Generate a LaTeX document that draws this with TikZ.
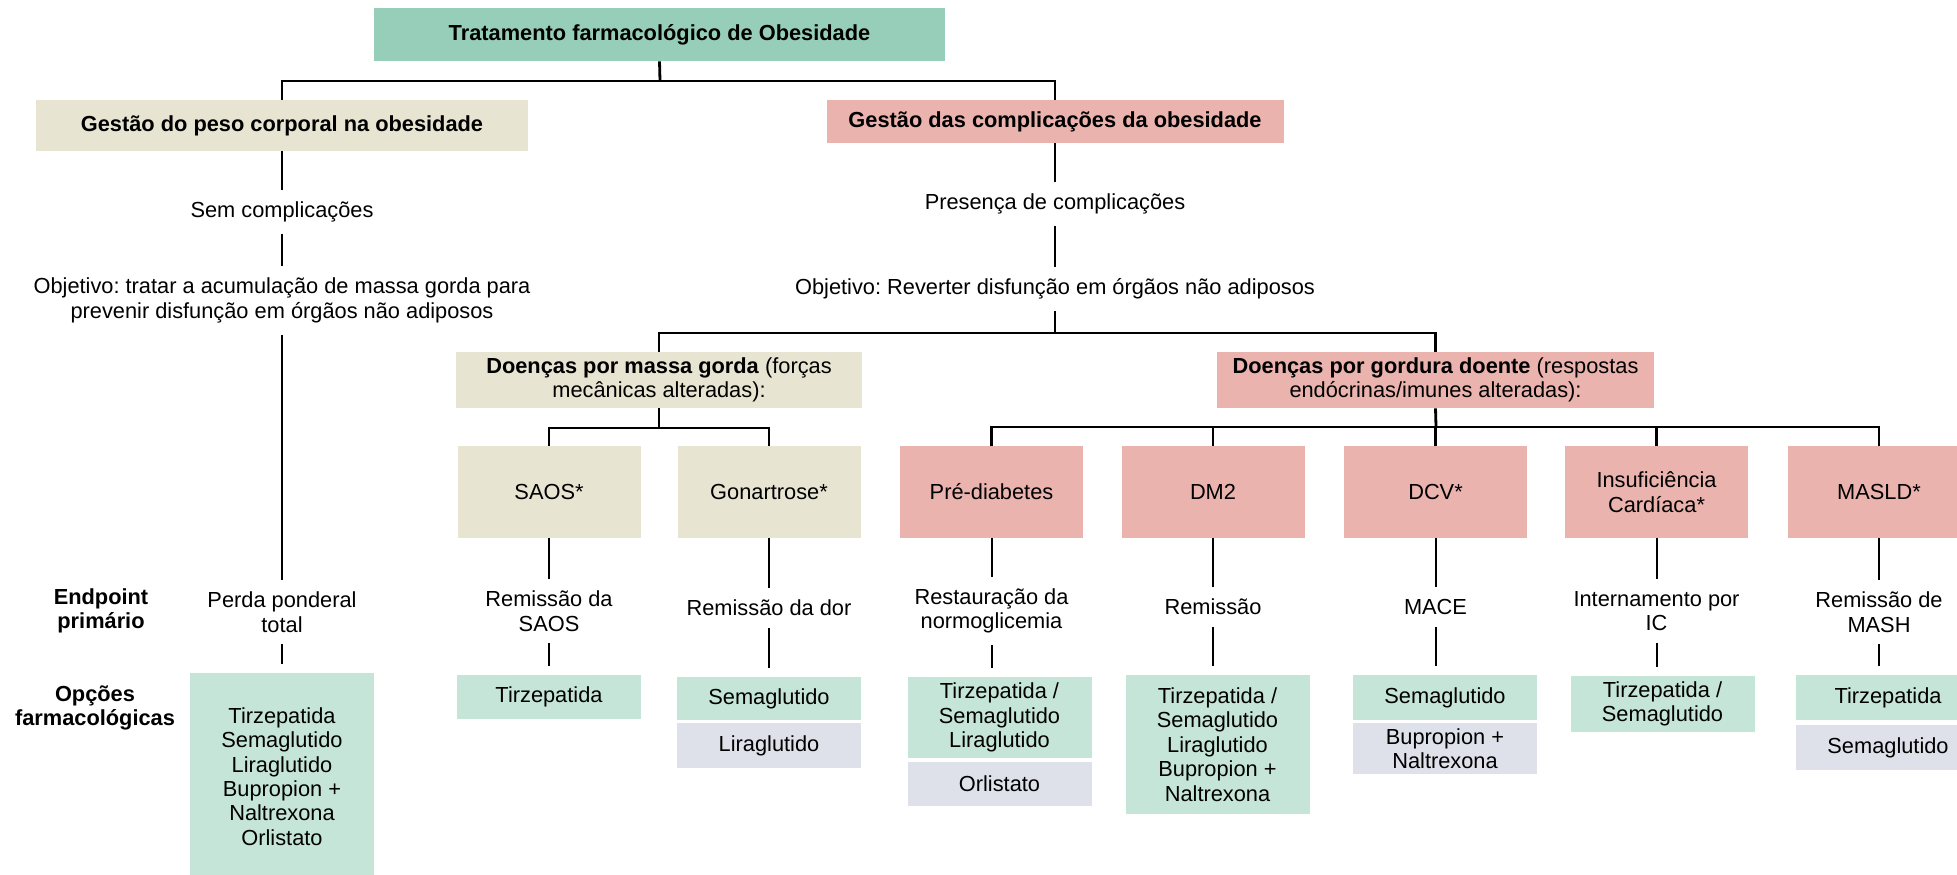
\documentclass[tikz,border=0pt]{standalone}
\usepackage{fontspec}
\setmainfont{Liberation Sans}
\definecolor{topgreen}{RGB}{150,206,185}
\definecolor{beige}{RGB}{231,228,210}
\definecolor{rose}{RGB}{235,179,174}
\definecolor{optgreen}{RGB}{197,229,217}
\definecolor{optgrey}{RGB}{223,225,234}
\tikzset{
    title/.style={font=\bfseries, inner sep=0, align=center},
    txt/.style={inner sep=0, outer sep=6pt, align=center},
    grp/.style={inner sep=0, align=center, minimum height=28pt},
    dis/.style={fill=rose, inner sep=0, align=center, minimum width=91.5pt, minimum height=46pt},
    optg/.style={fill=optgreen, inner sep=0, align=center, minimum width=92pt},
    optr/.style={fill=optgrey, inner sep=0, align=center, minimum width=92pt},
    link/.style={line width=1pt},
    bracket/.style={line width=1.4pt}
}
\frenchspacing
\begin{document}
\begin{tikzpicture}[x=0.5pt, y=-0.5pt]
    \fontsize{10.9pt}{12.2pt}\selectfont
    \useasboundingbox (0,0) rectangle (1957,874);
    \clip (0,0) rectangle (1957,874);
    % top level
    \node [title, fill=topgreen, minimum width=285.5pt, minimum height=26.5pt] (top) at (659.5,34.5) {Tratamento farmacológico de Obesidade};
    \node [title, fill=beige, minimum width=246pt, minimum height=25.5pt] (peso) at (282,125.5) {Gestão do peso corporal na obesidade};
    \node [title, fill=rose, minimum width=228.5pt, minimum height=21.5pt] (compl) at (1055,121.5) {Gestão das complicações da obesidade};
    \coordinate (j1) at (660,81);
    \draw [bracket] (top.south) -- (j1);
    \draw [bracket] (peso.north) |- (j1) -| (compl.north);

    % left branch
    \node [txt] (semc) at (282,212) {Sem complicações};
    \node [txt] (objA) at (282,300.5) {Objetivo: tratar a acumulação de massa gorda para\\prevenir disfunção em órgãos não adiposos};
    \node [txt] (perda) at (282,612) {Perda ponderal\\total};
    \node [optg, minimum height=103.5pt] (optA) at (282,776.5) {Tirzepatida\\Semaglutido\\Liraglutido\\Bupropion +\\Naltrexona\\Orlistato};
    \draw [link] (peso.south) -- (semc.north);
    \draw [link] (semc.south) -- (objA.north);
    \draw [link] (objA.south) -- (perda.north);
    \draw [link, shorten >=4.5pt] (perda.south) -- (optA.north);

    % right branch
    \node [txt] (presc) at (1055,204) {Presença de complicações};
    \node [txt] (objB) at (1055,289) {Objetivo: Reverter disfunção em órgãos não adiposos};
    \draw [link] (compl.south) -- (presc.north);
    \draw [link] (presc.south) -- (objB.north);
    \node [grp, fill=beige, minimum width=203pt] (massa) at (659,380) {\textbf{Doenças por massa gorda} (forças\\mecânicas alteradas):};
    \node [grp, fill=rose, minimum width=218.5pt] (gorda) at (1435.5,380) {\textbf{Doenças por gordura doente} (respostas\\endócrinas/imunes alteradas):};
    \coordinate (j2) at (1055,333);
    \draw [bracket] (objB.south) -- (j2);
    \draw [bracket] (massa.north) |- (j2) -| (gorda.north);

    % diseases
    \node [dis, fill=beige] (saos) at (549,492) {SAOS*};
    \node [dis, fill=beige] (gon) at (769,492) {Gonartrose*};
    \node [dis] (pre) at (991.5,492) {Pré-diabetes};
    \node [dis] (dm2) at (1213,492) {DM2};
    \node [dis] (dcv) at (1435.5,492) {DCV*};
    \node [dis] (ic) at (1656.5,492) {Insuficiência\\Cardíaca*};
    \node [dis] (masld) at (1879,492) {MASLD*};
    \coordinate (j3) at (659,428);
    \coordinate (j4) at (1436,427);
    \draw [bracket] (massa.south) -- (j3);
    \draw [bracket] (saos.north) |- (j3) -| (gon.north);
    \draw [bracket] (gorda.south) -- (j4);
    \draw [bracket] (pre.north) |- (j4) -| (masld.north);
    \foreach \n in {dm2,dcv,ic}
        \draw [bracket] (\n.north) -- (\n.north |- j4);

    % endpoints
    \node [txt, font=\bfseries] (rowEp) at (101,611) {Endpoint\\primário};
    \node [txt] (epSaos) at (549,611) {Remissão da\\SAOS};
    \node [txt] (epGon) at (769,608) {Remissão da dor};
    \node [txt] (epPre) at (991.5,611) {Restauração da\\normoglicemia};
    \node [txt] (epDm2) at (1213,607) {Remissão};
    \node [txt] (epDcv) at (1435.5,607) {MACE};
    \node [txt] (epIc) at (1656.5,611) {Internamento por\\IC};
    \node [txt] (epMasld) at (1879,612) {Remissão de\\MASH};

    % options
    \node [txt, font=\bfseries] (rowOpt) at (95,708) {Opções\\farmacológicas};
    \node [optg, minimum height=22pt] (opSaos) at (549,697) {Tirzepatida};
    \node [optg, minimum height=21.5pt] (opGon) at (769,698.5) {Semaglutido};
    \node [optr, minimum height=22.5pt] (opGon2) at (769,745.5) {Liraglutido};
    \node [optg, minimum height=40.5pt] (opPre) at (999.5,717.5) {Tirzepatida /\\Semaglutido\\Liraglutido};
    \node [optr, minimum height=22pt] (opPre2) at (999.5,784) {Orlistato};
    \node [optg, minimum height=69.5pt] (opDm2) at (1217.5,744.5) {Tirzepatida /\\Semaglutido\\Liraglutido\\Bupropion +\\Naltrexona};
    \node [optg, minimum height=22.5pt] (opDcv) at (1445,697.5) {Semaglutido};
    \node [optr, minimum height=25.5pt] (opDcv2) at (1445,748.5) {Bupropion +\\Naltrexona};
    \node [optg, minimum height=28pt] (opIc) at (1662.5,704) {Tirzepatida /\\Semaglutido};
    \node [optg, minimum height=22.5pt] (opMasld) at (1888,697.5) {Tirzepatida};
    \node [optr, minimum height=22.5pt] (opMasld2) at (1888,747.5) {Semaglutido};

    \foreach \d/\e/\o in {saos/epSaos/opSaos, gon/epGon/opGon, pre/epPre/opPre, dm2/epDm2/opDm2, dcv/epDcv/opDcv, ic/epIc/opIc, masld/epMasld/opMasld} {
        \draw [link] (\d.south) -- (\e.north);
        \draw [link, shorten >=4.5pt] (\e.south) -- (\e.south |- \o.north);
    }
\end{tikzpicture}
\end{document}
